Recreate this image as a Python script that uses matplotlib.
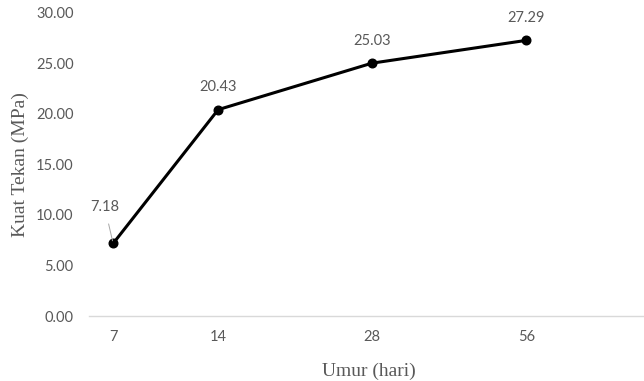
import numpy as np
import matplotlib
matplotlib.use("Agg")
import matplotlib.pyplot as plt

# Compressive strength vs. curing age
umur_hari = ["7", "14", "28", "56"]
kuat_tekan = [7.18, 20.43, 25.03, 27.29]
y_ticks = [0, 5, 10, 15, 20, 25, 30]

TEXT_GRAY = "#595959"
AXIS_GRAY = "#d9d9d9"

# category slots along the x axis (first gap is narrower than the rest)
x_slots = np.array([0.0, 0.68, 1.675, 2.675])

fig = plt.figure(figsize=(6.44, 3.81), dpi=100)
ax = fig.add_axes([0.138, 0.1706, 0.87, 0.7953])

ax.plot(x_slots, kuat_tekan, color="black", linewidth=2.2,
        marker="o", markersize=6.2, markerfacecolor="black",
        markeredgecolor="black", solid_joinstyle="round", zorder=3)

# data labels: first one sits up-left with a leader line, others above
for i, (x, v) in enumerate(zip(x_slots, kuat_tekan)):
    if i == 0:
        ax.annotate(f"{v:.2f}", xy=(x, v), xytext=(-6, 26),
                    textcoords="offset points", ha="center", va="center",
                    fontsize=10.5, family="Lato", color=TEXT_GRAY,
                    arrowprops=dict(arrowstyle="-", color="#a6a6a6",
                                    lw=0.7, shrinkA=5, shrinkB=2))
    else:
        ax.annotate(f"{v:.2f}", xy=(x, v), xytext=(0, 16),
                    textcoords="offset points", ha="center", va="center",
                    fontsize=10.5, family="Lato", color=TEXT_GRAY)

ax.set_xlim(-0.157, 3.47)
ax.set_ylim(0, 30)
ax.set_xticks(x_slots)
ax.set_xticklabels(umur_hari)
ax.set_yticks(y_ticks)
ax.set_yticklabels([f"{t:.2f}" for t in y_ticks])

for lbl in ax.get_xticklabels() + ax.get_yticklabels():
    lbl.set_family("Lato")
    lbl.set_fontsize(10.5)
    lbl.set_color(TEXT_GRAY)

ax.tick_params(axis="both", length=0)
ax.tick_params(axis="x", pad=10)
ax.tick_params(axis="y", pad=11)

for side in ["top", "right", "left"]:
    ax.spines[side].set_visible(False)
ax.spines["bottom"].set_color(AXIS_GRAY)
ax.spines["bottom"].set_linewidth(1.0)

ax.set_xlabel("Umur (hari)", family="Liberation Serif", fontsize=14,
              color=TEXT_GRAY)
ax.xaxis.set_label_coords((369 - 89) / (0.87 * 644), -0.155)
ax.set_ylabel("Kuat Tekan (MPa)", family="Liberation Serif", fontsize=14,
              color=TEXT_GRAY)
ax.yaxis.set_label_coords(-0.106, 0.5)

fig.savefig("out.png", dpi=100, facecolor="white")
